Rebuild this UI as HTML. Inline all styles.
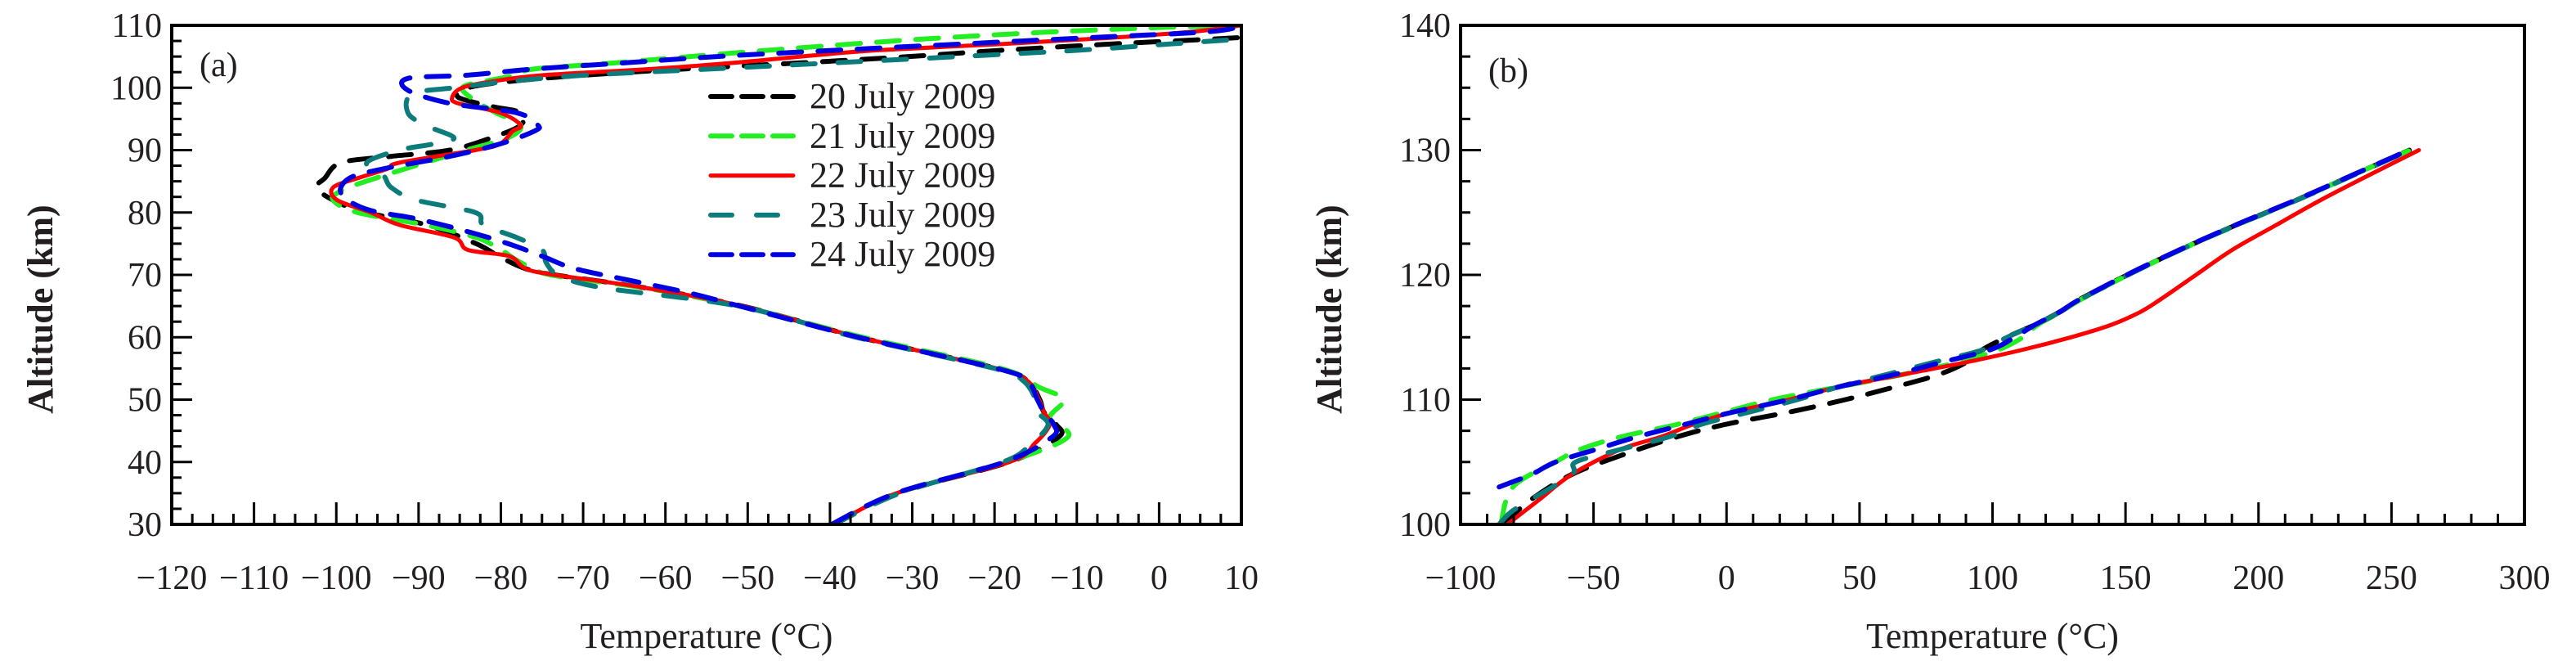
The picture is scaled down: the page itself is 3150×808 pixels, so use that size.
<!DOCTYPE html>
<html><head><meta charset="utf-8"><style>
html,body{margin:0;padding:0;background:#fff}
svg text{font-family:"Liberation Serif",serif;fill:#231f20}
</style></head><body>
<svg id="chart" width="3150" height="803" viewBox="0 0 3150 803" xmlns="http://www.w3.org/2000/svg"></svg>
<script>
// ---------- Panel (a) data: temperature (°C) vs altitude (km) ----------
const aAlt20 = [30,35,40,44,46,48,50,53,55,60,65,68,70,71,72.8,75,78,80,82,84,85.5,88,89,90,92,94,96,97,98.5,100,101,102,103,104,105,106,107,108,108.4];
const aT20   = [-39.5,-31.9,-18.2,-12.2,-12.5,-14,-14.5,-16,-19.7,-36.4,-50.7,-62.8,-73.5,-77,-80,-83,-89,-96.4,-100.4,-102.4,-101.4,-99.4,-93.3,-86.2,-81.1,-77.6,-77.6,-81.1,-85.2,-84,-79,-70,-57.8,-43.5,-30.4,-19.2,-6,9.2,10];
const aAlt21 = [30,35,40,44,47,50,52,55,60,65,68,70,72,74,76,78,80,82,83.5,85,88,90,92,94,96,98,100,101,102,103,104,105,106,107,108,109,109.7,110];
const aT21   = [-39.5,-31.9,-18.5,-11.1,-13.3,-11.6,-14.6,-19.2,-36,-51,-63,-74,-77.6,-80,-83,-89.2,-97.4,-100.4,-99.4,-96.4,-89.2,-84.2,-79.1,-77.6,-80.6,-83.2,-84.7,-82.1,-78.1,-76,-66,-57,-47.6,-37.5,-26.4,-12.2,1.1,10];
const aAlt22 = [30,35,40,43,46,48,50,53,55,60,65,68,70,71,73,74,76,78,80,82,84,85.5,87,88,90,91,93,94,96,97.5,98.5,100,101,102,103,104,105,106,107,108,109,110];
const aT22   = [-39.5,-31.9,-18.2,-15.1,-13.3,-14,-14.6,-16,-19.7,-36.4,-50.7,-62.8,-73.5,-77,-79,-84,-85.7,-92.3,-95.8,-99.9,-100.4,-97.4,-93.8,-92.3,-83.1,-80.1,-78.6,-77.6,-80.1,-85.2,-85.9,-84.7,-81.1,-75,-61.8,-51.7,-43.5,-34.4,-19.2,-6,4.2,10];
const aAlt23 = [30,35,40,43,46,48,50,53,55,60,65,68,70,72,74,76,78,80,82,84,86,88,90,91,92,94,96,99,100,101,102,103,104,105,106,107,107.8];
const aT23   = [-39.5,-31.5,-19,-15.5,-13.5,-14.8,-15,-16.5,-20,-36.8,-51.2,-67.9,-73,-74.5,-75,-78.1,-82.1,-83.1,-90.3,-93.3,-94.3,-96.3,-92.3,-88.2,-85.7,-89.2,-91.3,-90.8,-85.7,-79.1,-70,-54.7,-39.5,-24.3,-10,1.1,10];
const aAlt24 = [30,35,40,44,46,48,50,53,55,60,65,67,69,71,73,75,77,79,80.5,83,85.5,87,89,91,93,94,96,97.5,99.6,101.5,102,103,104,105,106,107,108,109,110];
const aT24   = [-39.8,-32,-18.8,-13,-12.8,-14,-14.8,-16,-19.7,-36.5,-51,-56.8,-63.9,-71,-75,-79.1,-84.2,-90.3,-96.3,-99.4,-98.4,-94.3,-86.2,-80.1,-76,-75.5,-78.1,-86.2,-91.3,-91.3,-84.2,-76,-64.9,-53.7,-39.5,-24.3,-9,6.2,10];

// ---------- Panel (b) data ----------
const bAlt20 = [100,102,104,105.5,107,108,109,110,111,112,113,114,115,116,117,118,120,122,124,126,128,130];
const bT20   = [-84,-73.4,-58.2,-40,-18.9,-0.7,23.5,44.7,62.9,79.6,90.2,96.2,105.3,115.9,125,132.5,150.7,170.4,191.6,214.3,235.5,256.7];
const bAlt21 = [100,103,105,106,107,108,109,110,111,112,113,114,115,116,117,118,120,122,124,126,128,130];
const bT21   = [-84.9,-80.3,-64.3,-55.2,-40,-18.9,-0.7,17.5,41.7,65.9,87.1,102.3,111.4,117,125.5,133,151,170.5,192,214.5,235.5,257];
const bAlt22 = [100,102,104,106,107,108,109,110,111,112,113,114,115,116,117,118,120,122,124,126,128,130];
const bT22   = [-82.4,-70.3,-58.2,-40,-24.9,-12.8,2.3,23.5,41.7,65.9,90.2,111.4,129.5,144.7,155.3,162.9,176.5,190.1,206.7,223.4,241.6,260.3];
const bAlt23 = [100,101,102,104,105,106,107,108,109,110,111,112,113,114,115,116,117,118,120,122,124,126,128,130];
const bT23   = [-85.5,-81,-73.4,-58.2,-56.7,-40,-21.9,-9.8,8.4,26.6,41.7,59.9,78,96.5,105.5,116,125.2,132.8,151,170.6,191.8,214.6,235.8,257];
const bAlt24 = [103,104,105,106,107,108,109,110,111,112,113,114,115,116,117,118,120,122,124,126,128,130];
const bT24   = [-85.5,-73.4,-64.3,-49.2,-34,-15.9,2.3,23.5,41.7,62.9,81,99.2,108.3,116,125,132.5,150.5,170.2,191.4,214,235.3,256.5];

const aXTicks = [-120,-110,-100,-90,-80,-70,-60,-50,-40,-30,-20,-10,0,10];
const aYTicks = [30,40,50,60,70,80,90,100,110];
const bXTicks = [-100,-50,0,50,100,150,200,250,300];
const bYTicks = [100,110,120,130,140];
const legendLabels = ["20 July 2009","21 July 2009","22 July 2009","23 July 2009","24 July 2009"];

const colors = ["#000000","#22ee22","#ff0000","#0b7b7b","#0000e0"];
const dashes = ["28 20","28 20","","28 28","28 20"];

const NS = "http://www.w3.org/2000/svg";
const svg = document.getElementById('chart');
function mk(tag, attrs, parent){const e=document.createElementNS(NS,tag);for(const k in attrs)e.setAttribute(k,attrs[k]);(parent||svg).appendChild(e);return e;}

function smoothPath(p){
  let d = 'M'+p[0][0].toFixed(1)+','+p[0][1].toFixed(1);
  for(let i=0;i<p.length-1;i++){
    const p0=p[Math.max(i-1,0)], p1=p[i], p2=p[i+1], p3=p[Math.min(i+2,p.length-1)];
    const c1x=p1[0]+(p2[0]-p0[0])/6, c1y=p1[1]+(p2[1]-p0[1])/6;
    const c2x=p2[0]-(p3[0]-p1[0])/6, c2y=p2[1]-(p3[1]-p1[1])/6;
    d+=' C'+c1x.toFixed(1)+','+c1y.toFixed(1)+' '+c2x.toFixed(1)+','+c2y.toFixed(1)+' '+p2[0].toFixed(1)+','+p2[1].toFixed(1);
  }
  return d;
}

function panel(cfg){
  const g = mk('g',{});
  
  
  const sx = v => cfg.x0 + (v-cfg.xmin)/(cfg.xmax-cfg.xmin)*(cfg.x1-cfg.x0);
  const sy = v => cfg.y1 - (v-cfg.ymin)/(cfg.ymax-cfg.ymin)*(cfg.y1-cfg.y0);
  const cg = mk('clipPath',{id:cfg.name+'-clip'},g);
  mk('rect',{x:cfg.x0,y:cfg.y0,width:cfg.x1-cfg.x0,height:cfg.y1-cfg.y0},cg);
  cfg.series.forEach((s,i)=>{
    const pts = s.t.map((t,j)=>[sx(t),sy(s.alt[j])]);
    const p = mk('path',{d:smoothPath(pts),fill:'none',stroke:colors[i],'stroke-width':i===2?5:6,'stroke-linejoin':'round','stroke-linecap':'round','clip-path':'url(#'+cfg.name+'-clip)'},g);
    if(dashes[i]) p.setAttribute('stroke-dasharray',dashes[i]);
    
    
  });
  const fr = mk('rect',{x:cfg.x0,y:cfg.y0,width:cfg.x1-cfg.x0,height:cfg.y1-cfg.y0,fill:'none',stroke:'#000','stroke-width':4},g);
  
  
  for(let v=cfg.xmin; v<=cfg.xmax+1e-6; v+=cfg.xminor){
    const major = Math.abs(((v-cfg.xmin)/cfg.xmajor) - Math.round((v-cfg.xmin)/cfg.xmajor))<1e-6;
    mk('line',{x1:sx(v),x2:sx(v),y1:cfg.y1,y2:cfg.y1-(major?27:13),stroke:'#000','stroke-width':3},g);
  }
  for(let v=cfg.ymin; v<=cfg.ymax+1e-6; v+=cfg.yminor){
    const major = Math.abs(((v-cfg.ymin)/cfg.ymajor) - Math.round((v-cfg.ymin)/cfg.ymajor))<1e-6;
    mk('line',{x1:cfg.x0,x2:cfg.x0+(major?25:12),y1:sy(v),y2:sy(v),stroke:'#000','stroke-width':3},g);
  }
  cfg.xticks.forEach(v=>{
    const t = mk('text',{x:sx(v),y:720,'font-size':42,'text-anchor':'middle'},g);
    t.textContent = v<0 ? '\u2212'+(-v) : String(v);
    
    
  });
  cfg.yticks.forEach(v=>{
    const t = mk('text',{x:cfg.x0-12,y:sy(v)+14,'font-size':42,'text-anchor':'end'},g);
    t.textContent = String(v);
    
    
  });
  const xt = mk('text',{x:(cfg.x0+cfg.x1)/2,y:792,'font-size':44,'text-anchor':'middle'},g);
  xt.textContent = 'Temperature (\u00B0C)';
  
  
  const yt = mk('text',{x:0,y:0,'font-size':44,'font-weight':'bold','text-anchor':'middle',transform:'translate('+cfg.ytx+',378) rotate(-90)'},g);
  yt.textContent = 'Altitude (km)';
  
  
  const pl = mk('text',{x:cfg.x0+34,y:cfg.labelY,'font-size':42},g);
  pl.textContent = cfg.label;
  
  
  return g;
}

panel({name:'panel-a',x0:210,x1:1518,y0:31,y1:641,xmin:-120,xmax:10,ymin:30,ymax:110,xminor:2.5,xmajor:10,yminor:2.5,ymajor:10,
  xticks:aXTicks,yticks:aYTicks,ytx:64,label:'(a)',labelY:93,
  series:[{alt:aAlt20,t:aT20},{alt:aAlt21,t:aT21},{alt:aAlt22,t:aT22},{alt:aAlt23,t:aT23},{alt:aAlt24,t:aT24}]});
panel({name:'panel-b',x0:1786,x1:3087,y0:31,y1:641,xmin:-100,xmax:300,ymin:100,ymax:140,xminor:10,xmajor:50,yminor:2.5,ymajor:10,
  xticks:bXTicks,yticks:bYTicks,ytx:1640,label:'(b)',labelY:100,
  series:[{alt:bAlt20,t:bT20},{alt:bAlt21,t:bT21},{alt:bAlt22,t:bT22},{alt:bAlt23,t:bT23},{alt:bAlt24,t:bT24}]});

const lg = mk('g',{});


legendLabels.forEach((lab,i)=>{
  const y = 118 + i*48.3;
  const e = mk('g',{},lg);
  
  
  const l = mk('line',{x1:869,x2:970,y1:y,y2:y,stroke:colors[i],'stroke-width':i===2?5:6,'stroke-linecap':'round'},e);
  if(dashes[i]) l.setAttribute('stroke-dasharray', i===3?'26 30':'26 12');
  const t = mk('text',{x:990,y:y+14,'font-size':44},e);
  t.textContent = lab;
});
</script>
</body></html>
